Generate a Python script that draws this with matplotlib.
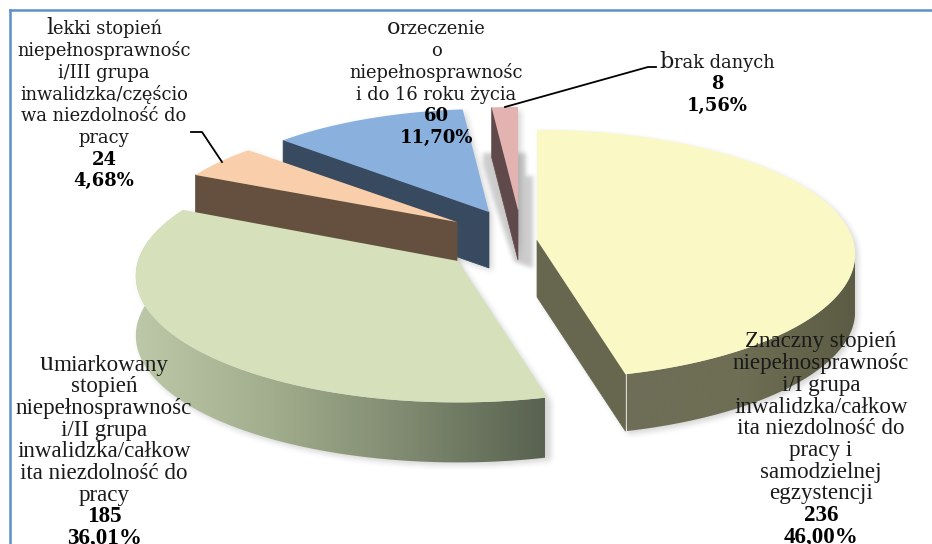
import numpy as np
import matplotlib
matplotlib.use('Agg')
import matplotlib.pyplot as plt
from matplotlib.colors import LinearSegmentedColormap
from matplotlib.patches import Polygon
from matplotlib.path import Path

values = [236, 185, 24, 60, 8]
percents = ['46,00%', '36,01%', '4,68%', '11,70%', '1,56%']
label_lines = [
    ['Znaczny stopień', 'niepełnosprawnośc', 'i/I grupa', 'inwalidzka/całkow',
     'ita niezdolność do', 'pracy i', 'samodzielnej', 'egzystencji'],
    ['umiarkowany', 'stopień', 'niepełnosprawnośc', 'i/II grupa', 'inwalidzka/całkow',
     'ita niezdolność do', 'pracy'],
    ['lekki stopień', 'niepełnosprawnośc', 'i/III grupa', 'inwalidzka/częścio',
     'wa niezdolność do', 'pracy'],
    ['orzeczenie', 'o', 'niepełnosprawnośc', 'i do 16 roku życia'],
    ['brak danych'],
]

# slice placement in pixels: apex x, apex y, radius x, radius y, depth
slice_geom = [
    (537, 240, 316, 123, 57),
    (458, 261, 320, 125, 60),
    (457, 222, 304, 115, 58),
    (489, 212, 300, 115, 56),
    (518, 210, 300, 115, 50),
]
top_colors = ['#FAF9C6', '#D6E1BC', '#F9CFAB', '#8AB0DD', '#E3B3B2']
side_colors = ['#67674F', None, '#65503F', '#384A60', '#60494A']
radial_side = ['end', None, 'start', 'start', 'start']
label_pos = [(821, 342), (104, 365), (104, 29), (436, 29), (717, 62)]
k = 0.116  # perspective strength
line_h = 21.7

fig = plt.figure(figsize=(9.32, 5.44), dpi=100)
ax = fig.add_axes([0, 0, 1, 1])
ax.set_axis_off()

# upper labels are stretched wide in the original, lower ones are squeezed
wide = dict(family='DejaVu Serif', size=12.9, big=16.0, bold=13.0)
tall = dict(family='Liberation Serif', size=16.6, big=20.0, bold=16.6)
label_font = [tall, tall, wide, wide, wide]

# pixel grid for the blurred shadows
gx, gy = np.meshgrid(np.arange(932) + 0.5, np.arange(544) + 0.5)
grid = np.column_stack([gx.ravel(), gy.ravel()])


def rim(i, theta):
    x0, y0, a, b, d = slice_geom[i]
    w = 1 + k * np.sin(theta)
    return np.column_stack([x0 + a * np.cos(theta) / w, y0 - b * np.sin(theta) / w])


def gradient_side(poly, cols, x1, x2, z):
    cmap = LinearSegmentedColormap.from_list('side', cols)
    im = ax.imshow(np.linspace(0, 1, 256).reshape(1, -1), cmap=cmap, aspect='auto',
                   extent=[x1, x2, 544, 0], zorder=z)
    patch = Polygon(poly, closed=True, facecolor='none', edgecolor='none', zorder=z)
    ax.add_patch(patch)
    im.set_clip_path(patch)


def soft_shadow(polys, z, alpha, blur=7, offset=(3, 3)):
    mask = np.zeros(gx.shape)
    for p in polys:
        mask = np.maximum(mask, Path(p + offset).contains_points(grid).reshape(gx.shape).astype(float))
    box = np.ones(blur) / blur
    for _ in range(2):
        mask = np.apply_along_axis(lambda r: np.convolve(r, box, mode='same'), 1, mask)
        mask = np.apply_along_axis(lambda r: np.convolve(r, box, mode='same'), 0, mask)
    rgba = np.zeros(gx.shape + (4,))
    rgba[..., :3] = 0.35
    rgba[..., 3] = mask * alpha
    ax.imshow(rgba, extent=[0, 932, 544, 0], aspect='auto', zorder=z, interpolation='bilinear')


# soft grey shadow behind the thin pink slice
back = np.array([[483, 153], [526, 153], [526, 176], [533, 176], [533, 268],
                 [514, 262], [492, 195], [483, 165]], dtype=float)
soft_shadow([back], 1, 0.3, blur=5, offset=(0, 0))

# clockwise from the top, like the original pie
edges = 90 - np.cumsum([0] + values) / sum(values) * 360

for i in [4, 3, 0, 2, 1]:
    x0, y0, a, b, d = slice_geom[i]
    z = {4: 2, 3: 3, 0: 4, 2: 5, 1: 6}[i]
    t1, t2 = np.radians(edges[i]), np.radians(edges[i + 1])
    th = np.linspace(t1, t2, 120)
    arc = rim(i, th)
    top = np.vstack([[x0, y0], arc])
    down = np.array([0, d])

    shadow_pts = [top, top + down]
    if radial_side[i] is not None:
        corner = arc[0] if radial_side[i] == 'start' else arc[-1]
        face = np.array([[x0, y0], corner, corner + down, [x0, y0 + d]])
        shadow_pts.append(face)
    if i == 0:
        front = rim(i, np.linspace(np.radians(-5), t2, 80))
        outer = np.vstack([front, (front + down)[::-1]])
        shadow_pts.append(outer)
        soft_shadow(shadow_pts, z - 0.5, 0.25)
        gradient_side(outer, ['#5C5C44', '#6E6E54', '#6E6E58'], 855, 627, z)
    elif i == 1:
        front = rim(i, np.linspace(t1, np.radians(-190), 120))
        outer = np.vstack([front, (front + down)[::-1]])
        shadow_pts.append(outer)
        soft_shadow(shadow_pts, z - 0.5, 0.25)
        gradient_side(outer, ['#BDC9A8', '#A2AE8D', '#7F8A70', '#586250'], 130, 545, z)
    else:
        soft_shadow(shadow_pts, z - 0.5, 0.25)
    if radial_side[i] is not None:
        ax.add_patch(Polygon(face, closed=True, facecolor=side_colors[i], edgecolor=side_colors[i],
                             lw=0.5, zorder=z))
    ax.add_patch(Polygon(top, closed=True, facecolor=top_colors[i], edgecolor='none', zorder=z + 0.1))

# leader lines
ax.plot([191, 202, 222], [132, 132, 162], color='black', lw=1.3, zorder=9)
ax.plot([656, 648, 505], [67, 67, 107], color='black', lw=1.3, zorder=9)

# frame, only top and left are in the picture
ax.plot([9.5, 932], [9.5, 9.5], color='#5E8FCB', lw=1.8, zorder=10)
ax.plot([9.5, 9.5], [9.5, 544], color='#5E8FCB', lw=1.8, zorder=10)

ax.set_xlim(0, 932)
ax.set_ylim(544, 0)

renderer = fig.canvas.get_renderer()
for i in range(len(values)):
    cx, y = label_pos[i]
    f = label_font[i]
    for j, line in enumerate(label_lines[i]):
        yy = y + j * line_h + 5.5
        if j == 0 and i != 0:
            # first letter is drawn bigger in the original
            big = ax.text(0, yy, line[0], fontsize=f['big'], family=f['family'], ha='left', va='baseline', color='#1a1a1a', zorder=11)
            rest = ax.text(0, yy, line[1:], fontsize=f['size'], family=f['family'], ha='left', va='baseline', color='#1a1a1a', zorder=11)
            w1 = big.get_window_extent(renderer).width
            w2 = rest.get_window_extent(renderer).width
            big.set_x(cx - (w1 + w2) / 2)
            rest.set_x(cx - (w1 + w2) / 2 + w1)
        else:
            ax.text(cx, yy, line, fontsize=f['size'], family=f['family'], ha='center', va='baseline', color='#1a1a1a', zorder=11)
    n = len(label_lines[i])
    ax.text(cx, y + n * line_h + 5.5, str(values[i]), fontsize=f['bold'], family=f['family'], weight='bold',
            ha='center', va='baseline', color='black', zorder=11)
    ax.text(cx, y + (n + 1) * line_h + 5.5, percents[i], fontsize=f['bold'], family=f['family'], weight='bold',
            ha='center', va='baseline', color='black', zorder=11)

fig.savefig('out.png', dpi=100, facecolor='white')
